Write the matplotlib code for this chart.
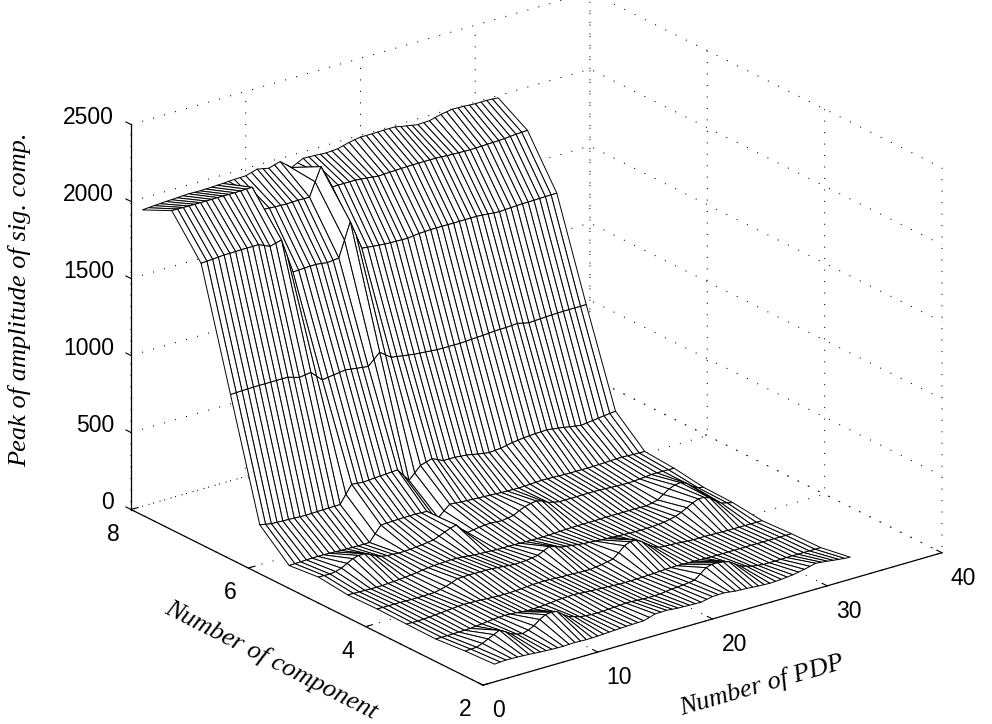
import numpy as np
import matplotlib
matplotlib.use("Agg")
import matplotlib.pyplot as plt
from mpl_toolkits.mplot3d import proj3d

# Data
pdp = np.arange(1, 32.5, 0.5)
component = [2, 2.5, 3, 3.5, 4, 4.5, 5, 5.5, 6, 6.5, 7, 7.5, 8]
c20 = [115,118,120,119,118,116,114,111,108,106,104,103,102,104,105,103,102,103,104,106,108,110,112,114,115,116,117,128,140,141,142,138,135,134,132,131,130,138,145,147,148,143,138,136,134,131,128,126,124,126,128,132,136,143,150,159,168,164,160,155,150,146,143]
c25 = [105,106,108,122,140,158,175,155,130,118,110,122,140,170,190,195,190,160,135,124,112,108,105,105,105,108,110,112,115,114,112,110,108,109,110,115,120,122,125,130,135,165,195,205,205,200,190,165,140,129,118,113,108,108,108,109,110,110,110,110,110,110,110]
c30 = [88,88,88,89,90,91,92,96,100,104,108,110,112,110,108,104,100,101,102,105,108,112,115,116,118,115,112,110,108,106,105,102,100,100,100,101,102,104,105,108,110,111,112,111,110,109,108,106,105,105,105,105,105,105,105,105,105,105,105,105,105,105,105]
c35 = [90,89,88,90,92,95,98,102,105,108,110,109,108,106,104,102,100,100,100,102,104,107,110,111,112,110,108,106,105,104,102,101,100,105,110,118,125,155,190,205,205,185,155,130,115,112,110,108,105,102,100,100,100,99,98,97,96,96,95,95,95,95,95]
c40 = [93,92,92,92,92,91,90,90,90,91,92,101,110,124,139,140,142,141,140,140,139,136,132,128,125,126,128,134,140,158,175,165,150,145,140,135,130,128,125,122,120,118,115,114,112,111,110,111,112,115,118,126,135,150,170,190,205,205,190,160,135,126,117]
c45 = [89,88,87,86,85,85,85,88,90,93,96,100,104,110,115,118,120,122,124,122,120,116,112,110,108,106,104,104,104,103,102,101,100,100,100,101,102,104,106,107,108,108,108,108,109,110,110,110,110,110,110,109,108,116,125,150,175,190,195,180,150,130,122]
c50 = [110,109,108,113,125,145,165,175,175,160,140,126,120,118,115,116,118,122,125,130,135,150,165,180,190,150,120,126,132,135,138,135,132,138,145,165,180,190,195,185,165,155,148,148,148,148,149,149,149,148,146,144,142,141,140,142,145,148,152,152,152,151,150]
c55 = [90,91,92,94,95,95,95,94,92,91,90,89,88,88,89,134,180,182,184,185,186,186,187,185,183,152,120,154,187,184,180,178,176,174,172,170,168,166,165,164,163,164,166,168,170,169,168,166,165,164,164,164,163,164,165,166,168,169,170,168,166,165,164]
c60 = [259,252,245,243,241,240,238,236,235,236,237,238,239,240,240,295,350,346,342,345,348,350,352,355,358,313,268,305,343,355,366,349,332,332,332,328,325,318,310,304,298,302,305,312,320,324,329,332,335,336,338,333,328,322,315,309,303,308,312,317,322,326,331]
c65 = [1011,1012,1014,1015,1016,1016,1016,1016,1016,1016,1016,1004,993,998,1004,969,934,940,945,950,955,950,945,940,935,970,1006,979,952,946,940,934,928,925,922,918,915,914,914,914,913,916,918,920,922,925,928,929,930,932,935,926,918,920,922,924,926,927,928,928,928,928,929]
c70 = [1767,1770,1772,1775,1778,1778,1779,1780,1780,1780,1781,1764,1748,1758,1768,1654,1539,1540,1542,1544,1545,1540,1535,1539,1543,1650,1758,1661,1564,1560,1555,1552,1548,1546,1545,1544,1543,1548,1552,1554,1556,1556,1556,1556,1555,1556,1556,1556,1556,1553,1550,1546,1543,1546,1548,1550,1552,1552,1553,1554,1555,1556,1556]
c75 = [2014,2014,2013,2012,2012,2012,2012,2012,2013,2012,2012,2012,2013,2014,2015,1932,1850,1848,1845,1844,1842,1844,1845,1844,1843,1932,2020,1944,1867,1868,1868,1868,1868,1864,1860,1856,1851,1853,1855,1856,1858,1859,1860,1860,1860,1860,1860,1858,1855,1854,1852,1851,1850,1851,1852,1854,1855,1856,1858,1862,1865,1867,1869]
c80 = [1924,1927,1930,1932,1935,1936,1938,1940,1942,1941,1940,1941,1942,1944,1945,1948,1950,1951,1952,1963,1974,1966,1958,1969,1980,1950,1920,1939,1958,1956,1955,1952,1950,1952,1955,1965,1975,1982,1988,1988,1988,1989,1990,1990,1990,1982,1975,1968,1962,1964,1965,1975,1985,1991,1997,1996,1995,1992,1990,1990,1990,1988,1985]
x_ticks = [0, 10, 20, 30, 40]
y_ticks = [2, 4, 6, 8]
z_ticks = [0, 500, 1000, 1500, 2000, 2500]
x_label = "Number of PDP"
y_label = "Number of component"
z_label = "Peak of amplitude of sig. comp."

W, H = 992, 724
fig = plt.figure(figsize=(W / 100, H / 100), dpi=100, facecolor="white")
ax = fig.add_axes([0, 0, 1, 1], projection="3d", proj_type="ortho")
ax.view_init(elev=22.3, azim=-127.25)
ax.set_box_aspect((575, 580, 415))
ax.set_xlim(0, 40, view_margin=0)
ax.set_ylim(2, 8, view_margin=0)
ax.set_zlim(0, 2500, view_margin=0)
ax.patch.set_alpha(0)

X, Y = np.meshgrid(pdp, component)
Z = np.array([c20, c25, c30, c35, c40, c45, c50, c55, c60, c65, c70, c75, c80], dtype=float)
ax.plot_surface(X, Y, Z, rstride=1, cstride=1, color="white", edgecolor="black",
                linewidth=0.7, shade=False, antialiased=True)

sans = "Liberation Sans"
ax.set_xticks(x_ticks)
ax.set_yticks(y_ticks)
ax.set_zticks(z_ticks)
ax.tick_params(axis="x", labelsize=16.5, pad=0.5, labelfontfamily=sans)
ax.tick_params(axis="y", labelsize=16.5, pad=0.5, labelfontfamily=sans)
ax.tick_params(axis="z", labelsize=16.5, pad=-1, labelfontfamily=sans)
for axis in (ax.xaxis, ax.yaxis, ax.zaxis):
    axis.set_pane_color((1, 1, 1, 0))
    axis.pane.set_edgecolor("none")
    axis.line.set_color("black")
    axis.line.set_linewidth(0.9)
    axis._axinfo["grid"].update(color="black", linewidth=0.75, linestyle=(0, (1, 10)))
    axis._axinfo["tick"].update(inward_factor=0.0, outward_factor=0.18, linewidth={True: 0.8, False: 0.8}, color="black")
ax.zaxis._get_tickdir = lambda position: 1
for t in ax.xaxis.get_major_ticks():
    t.label1.set_horizontalalignment("left")
for t in ax.yaxis.get_major_ticks():
    t.label1.set_horizontalalignment("right")
for t in ax.zaxis.get_major_ticks():
    t.label1.set_horizontalalignment("right")
    t.label1.set_verticalalignment("baseline")


def project(px, py, pz):
    xp, yp, _ = proj3d.proj_transform(px, py, pz, ax.get_proj())
    return ax.transData.transform((xp, yp))


# Fit the axes box so that the cube's corners land where they are in the picture
target_left = np.array([131.0, H - 509.5])
target_right = np.array([942.0, H - 552.0])
l, b, s = 0.0, 0.0, 1.0
for _ in range(4):
    ax.set_position([l, b, s, s * W / H])
    ax.apply_aspect()
    p_left = project(0, 8, 0)
    p_right = project(40, 2, 0)
    s *= np.linalg.norm(target_right - target_left) / np.linalg.norm(p_right - p_left)
    ax.set_position([l, b, s, s * W / H])
    ax.apply_aspect()
    p_left = project(0, 8, 0)
    l += (target_left[0] - p_left[0]) / W
    b += (target_left[1] - p_left[1]) / H
ax.set_position([l, b, s, s * W / H])

serif = dict(family="Liberation Serif", style="italic", fontsize=19, ha="center", va="center")
fig.text(762 / W, 1 - 685 / H, x_label, rotation=16, rotation_mode="anchor", **serif)
fig.text(271 / W, 1 - 660 / H, y_label, rotation=-27, rotation_mode="anchor", **serif)
fig.text(20 / W, 1 - 300 / H, z_label, rotation=90, rotation_mode="anchor", **serif)

fig.savefig("out.png", dpi=100)
